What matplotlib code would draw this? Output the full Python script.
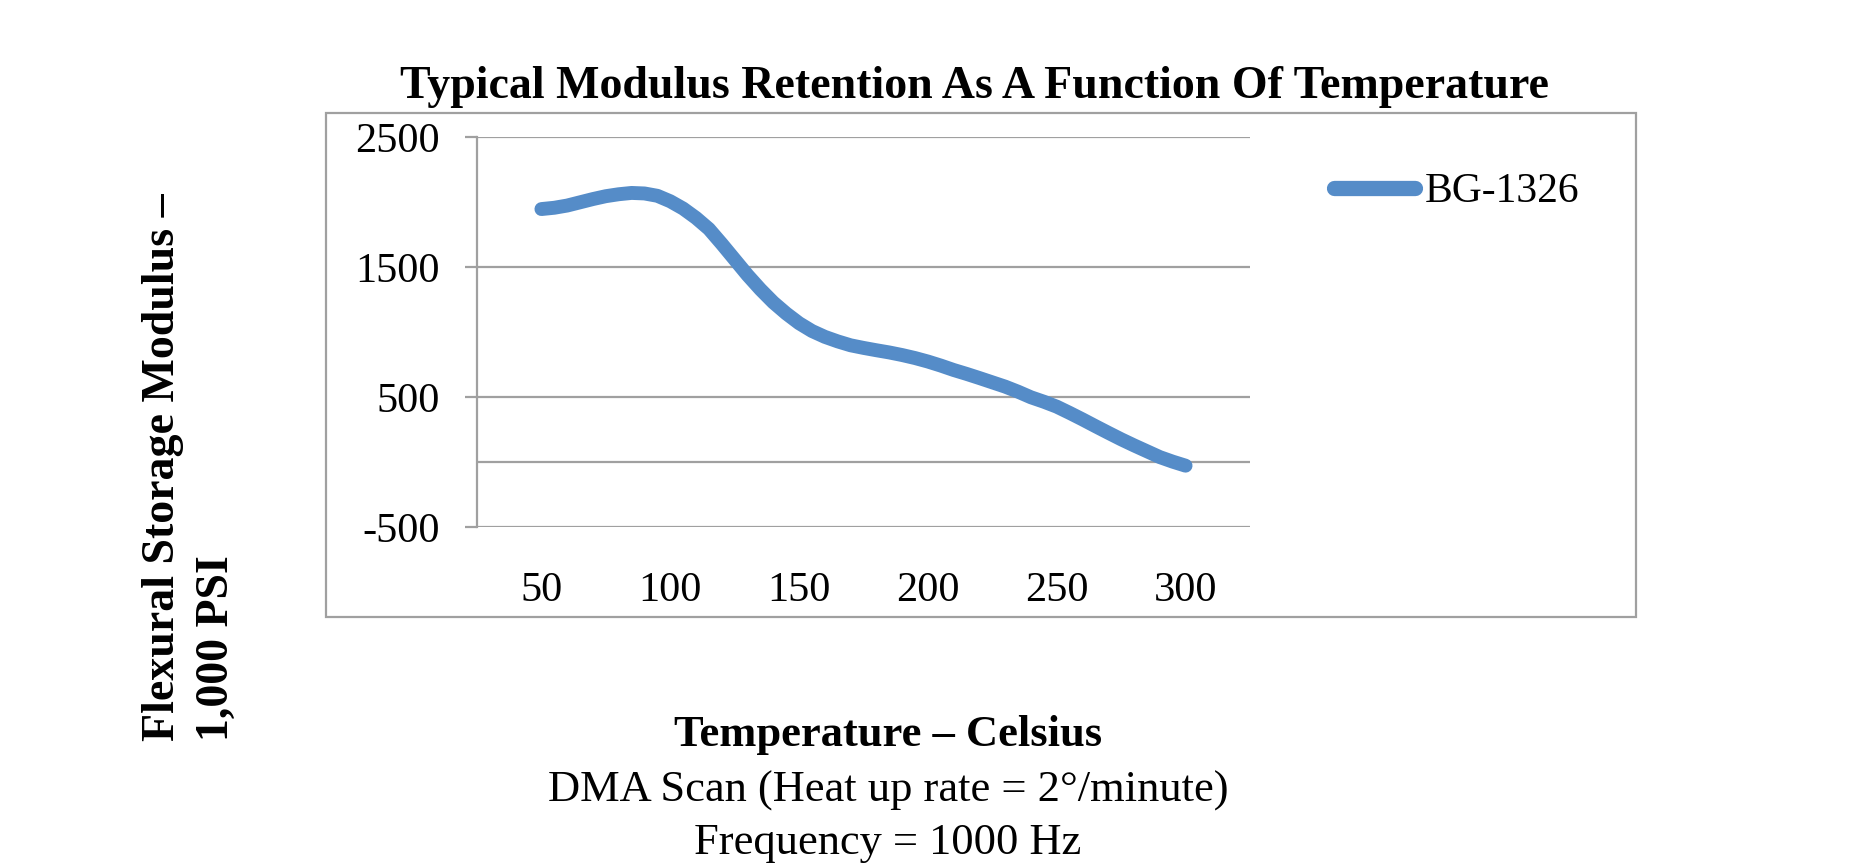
import matplotlib.pyplot as plt
from matplotlib.patches import Rectangle

# values (every 5 degrees)
temperature = [50, 55, 60, 65, 70, 75, 80, 85, 90, 95, 100, 105, 110, 115, 120, 125,
               130, 135, 140, 145, 150, 155, 160, 165, 170, 175, 180, 185, 190, 195,
               200, 205, 210, 215, 220, 225, 230, 235, 240, 245, 250, 255, 260, 265,
               270, 275, 280, 285, 290, 295, 300]
modulus = [1948, 1958, 1975, 2000, 2025, 2047, 2062, 2072, 2068, 2050, 2008, 1952, 1880,
           1795, 1680, 1560, 1440, 1330, 1230, 1145, 1070, 1010, 965, 930, 900, 880,
           862, 845, 825, 802, 775, 744, 710, 680, 648, 615, 582, 543, 500, 466, 428,
           380, 330, 278, 227, 177, 130, 85, 40, 5, -26]
series_name = "BG-1326"

x_ticks = [50, 100, 150, 200, 250, 300]
y_ticks = [-500, 500, 1500, 2500]

title = "Typical Modulus Retention As A Function Of Temperature"
y_label = "Flexural Storage Modulus \u2013\n1,000 PSI"
x_label = "Temperature \u2013 Celsius"
note1 = "DMA Scan (Heat up rate = 2\u00b0/minute)"
note2 = "Frequency = 1000 Hz"

plt.rcParams['font.family'] = ['Liberation Serif', 'DejaVu Serif']
plt.rcParams['axes.unicode_minus'] = False

W, H = 1874, 865
line_blue = "#558cc8"
grid_grey = "#a0a0a0"

fig = plt.figure(figsize=(W / 100, H / 100), dpi=100)

# chart frame
fig.patches.append(Rectangle((326 / W, 1 - 617 / H), (1636 - 326) / W, (617 - 113) / H,
                             transform=fig.transFigure, fill=False,
                             edgecolor=grid_grey, lw=1.6))

ax = fig.add_axes([477 / W, 1 - 527.3 / H, (1250 - 477) / W, (527.3 - 137.3) / H])
ax.plot(temperature, modulus, color=line_blue, lw=10,
        solid_capstyle='round', solid_joinstyle='round', label=series_name, zorder=3)

ax.set_xlim(25, 325)
ax.set_ylim(-500, 2500)
ax.set_xticks(x_ticks)
ax.set_yticks(y_ticks)
ax.grid(axis='y', color=grid_grey, lw=1.6)
ax.axhline(0, color=grid_grey, lw=1.6, zorder=1)
ax.set_axisbelow(True)

for side in ['top', 'right', 'bottom']:
    ax.spines[side].set_visible(False)
ax.spines['left'].set_color(grid_grey)
ax.spines['left'].set_linewidth(1.6)

ax.tick_params(axis='y', length=8.6, width=1.6, color=grid_grey, pad=18, labelsize=30.5)
ax.tick_params(axis='x', length=0, pad=31.5, labelsize=30.5)

leg = ax.legend(loc='center left', bbox_to_anchor=(1334 / W, 1 - 192 / H),
                bbox_transform=fig.transFigure, frameon=False, fontsize=30,
                handlelength=1.95, handletextpad=0.22, borderpad=0, borderaxespad=0)
for h in leg.get_lines():
    h.set_linewidth(11)

fig.text(975 / W, 1 - 87 / H, title, ha='center', va='center',
         fontsize=33, fontweight='bold')
fig.text(190 / W, 1 - 741 / H, y_label, rotation=90, ha='center', va='bottom',
         multialignment='left', fontsize=33, fontweight='bold', linespacing=1.35)
fig.text(888 / W, 1 - 735 / H, x_label, ha='center', va='center',
         fontsize=32, fontweight='bold')
fig.text(888 / W, 1 - 791 / H, note1, ha='center', va='center', fontsize=32)
fig.text(888 / W, 1 - 843 / H, note2, ha='center', va='center', fontsize=32)

fig.savefig("out.png", dpi=100, facecolor='white')
